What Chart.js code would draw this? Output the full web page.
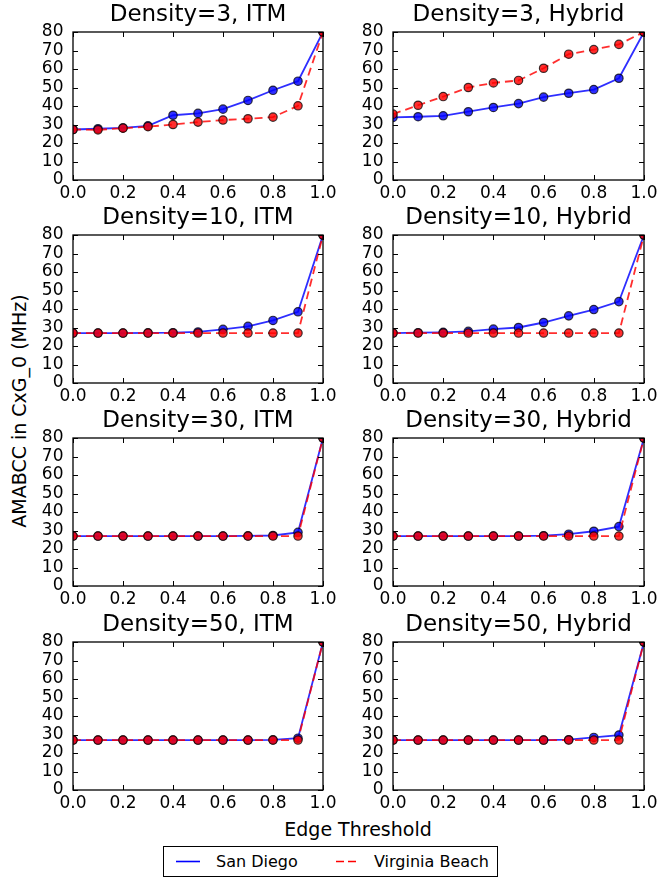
<!DOCTYPE html>
<html>
<head>
<meta charset="utf-8">
<script src="https://cdn.jsdelivr.net/npm/chart.js@4"></script>
<style>
html,body{margin:0;padding:0;background:#fff;}
body{width:658px;height:878px;position:relative;overflow:hidden;font-family:"DejaVu Sans",sans-serif;color:#000;}
.cell{position:absolute;}
.ylab{position:absolute;left:18.5px;top:411px;transform:translate(-50%,-50%) rotate(-90deg);font-size:19px;white-space:nowrap;}
.xlab{position:absolute;left:358px;top:829px;transform:translate(-50%,-50%);font-size:19px;white-space:nowrap;}
.legend{position:absolute;left:163px;top:846px;width:335px;height:31px;border:1px solid #000;box-sizing:border-box;font-size:16px;}
.legend span{position:absolute;top:5px;}
.legend svg{position:absolute;top:0;left:0;}
</style>
</head>
<body>
<div class="ylab">AMABCC in CxG_0 (MHz)</div>
<div class="xlab">Edge Threshold</div>
<div class="legend">
  <svg width="335" height="31">
    <line x1="12" y1="14.5" x2="36" y2="14.5" stroke="#0000ff" stroke-width="1.6"/>
    <line x1="172" y1="14.5" x2="195" y2="14.5" stroke="#ff0000" stroke-width="1.6" stroke-dasharray="8,4"/>
  </svg>
  <span style="left:52px">San Diego</span>
  <span style="left:210px">Virginia Beach</span>
</div>
<script>
// x 값 (edge threshold)
const thresholds=[0.0,0.1,0.2,0.3,0.4,0.5,0.6,0.7,0.8,0.9,1.0];
const xTicks=[0,0.2,0.4,0.6,0.8,1.0];
const yTicks=[0,10,20,30,40,50,60,70,80];

// Density=3
const sd3Itm=[27.3,27.7,28.2,29.3,35.0,36.0,38.3,43.0,48.5,53.4,80];
const vb3Itm=[27.3,27.1,28.0,28.8,30.0,31.3,32.4,33.1,34.0,40.1,80];
const sd3Hyb=[33.8,34.2,34.7,36.9,39.2,41.3,44.8,46.9,48.9,55.0,80];
const vb3Hyb=[35.6,40.4,45.1,50.0,52.5,53.8,60.4,68.0,70.5,73.3,80];
// Density=10
const sd10Itm=[27.0,27.0,27.0,27.1,27.2,27.6,29.0,30.6,33.8,38.5,80];
const vb10Itm=[27,27,27,27,27,27,27,27,27,27,80];
const sd10Hyb=[27.0,27.2,27.4,27.9,29.1,30.0,32.7,36.3,39.7,44.0,80];
const vb10Hyb=[27,27,27,27,27,27,27,27,27,27,80];
// Density=30
const sd30Itm=[27,27,27,27,27,27,27,27.1,27.3,29.0,80];
const vb30Itm=[27,27,27,27,27,27,27,27,27,27,80];
const sd30Hyb=[27,27,27,27,27,27,27.2,28.0,29.6,32.1,80];
const vb30Hyb=[27,27,27,27,27,27,27,27,27,27,80];
// Density=50
const sd50Itm=[27,27,27,27,27,27,27,27,27.1,28.0,80];
const vb50Itm=[27,27,27,27,27,27,27,27,27,27,80];
const sd50Hyb=[27,27,27,27,27,27,27,27.2,28.4,29.7,80];
const vb50Hyb=[27,27,27,27,27,27,27,27,27,27,80];

const titles=['Density=3, ITM','Density=3, Hybrid','Density=10, ITM','Density=10, Hybrid',
  'Density=30, ITM','Density=30, Hybrid','Density=50, ITM','Density=50, Hybrid'];
const sdSeries=[sd3Itm,sd3Hyb,sd10Itm,sd10Hyb,sd30Itm,sd30Hyb,sd50Itm,sd50Hyb];
const vbSeries=[vb3Itm,vb3Hyb,vb10Itm,vb10Hyb,vb30Itm,vb30Hyb,vb50Itm,vb50Hyb];

const FONT='"DejaVu Sans", sans-serif';
const COLS=[{left:0,width:345,axisW:73,padR:22},{left:345,width:313,axisW:48,padR:14}];
const ROW_TOPS=[0,203,406,610];
const TITLE_H=32, PLOT_H=148, XAXIS_H=30, TICK=5;

const BLUE='rgba(0,0,255,0.82)', RED='rgba(255,0,0,0.82)', EDGE='rgba(0,0,0,0.75)';

// 축 테두리 + 안쪽 눈금 (matplotlib classic 스타일)
const framePlugin={id:'frame',afterDraw(chart){
  const {ctx,chartArea:a,scales:{x,y}}=chart;
  ctx.save();
  ctx.strokeStyle='#000'; ctx.lineWidth=1;
  ctx.beginPath();
  xTicks.forEach(v=>{
    const px=Math.round(x.getPixelForValue(v))+0.5;
    ctx.moveTo(px,a.bottom); ctx.lineTo(px,a.bottom-TICK);
    ctx.moveTo(px,a.top); ctx.lineTo(px,a.top+TICK);
  });
  yTicks.forEach(v=>{
    const py=Math.round(y.getPixelForValue(v))+0.5;
    ctx.moveTo(a.left,py); ctx.lineTo(a.left+TICK,py);
    ctx.moveTo(a.right,py); ctx.lineTo(a.right-TICK,py);
  });
  ctx.stroke();
  ctx.lineWidth=1.3;
  ctx.strokeRect(a.left,a.top,a.right-a.left,a.bottom-a.top);
  ctx.restore();
}};

const pts=arr=>thresholds.map((t,i)=>({x:t,y:arr[i]}));

titles.forEach((title,i)=>{
  const col=COLS[i%2], top=ROW_TOPS[Math.floor(i/2)];
  const div=document.createElement('div');
  div.className='cell';
  div.style.left=col.left+'px'; div.style.top=top+'px';
  div.style.width=col.width+'px'; div.style.height=(TITLE_H+PLOT_H+XAXIS_H)+'px';
  const cv=document.createElement('canvas');
  div.appendChild(cv); document.body.appendChild(div);

  new Chart(cv,{
    type:'line',
    data:{datasets:[
      {label:'San Diego',data:pts(sdSeries[i]),borderColor:BLUE,backgroundColor:BLUE,
       pointBackgroundColor:BLUE,pointBorderColor:EDGE,pointBorderWidth:1.2,pointRadius:4.2,
       borderWidth:1.8,tension:0,clip:0,order:1},
      {label:'Virginia Beach',data:pts(vbSeries[i]),borderColor:RED,backgroundColor:RED,
       pointBackgroundColor:RED,pointBorderColor:EDGE,pointBorderWidth:1.2,pointRadius:4.2,
       borderWidth:1.8,borderDash:[8,5],tension:0,clip:0,order:0},
    ]},
    options:{
      responsive:true,maintainAspectRatio:false,animation:false,events:[],
      layout:{padding:{left:0,right:col.padR,top:0,bottom:0}},
      plugins:{
        legend:{display:false},tooltip:{enabled:false},
        title:{display:true,text:title,fullSize:false,color:'#000',
          font:{family:FONT,size:23,weight:'normal',lineHeight:1.2},
          padding:{top:1.5,bottom:2.9}},
      },
      scales:{
        x:{type:'linear',min:0,max:1,
          afterBuildTicks:s=>{ s.ticks=xTicks.map(v=>({value:v})); },
          ticks:{callback:v=>v.toFixed(1),color:'#000',font:{family:FONT,size:17},
            padding:3,maxRotation:0,autoSkip:false},
          grid:{display:false,drawTicks:false},border:{display:false},
          afterFit:s=>{ s.height=XAXIS_H; s.paddingLeft=0; s.paddingRight=0; }},
        y:{type:'linear',min:0,max:80,
          afterBuildTicks:s=>{ s.ticks=yTicks.map(v=>({value:v})); },
          ticks:{color:'#000',font:{family:FONT,size:17},padding:9.5,autoSkip:false},
          grid:{display:false,drawTicks:false},border:{display:false},
          afterFit:s=>{ s.width=col.axisW; s.paddingTop=0; s.paddingBottom=0; }},
      },
    },
    plugins:[framePlugin],
  });
});
</script>
</body>
</html>
